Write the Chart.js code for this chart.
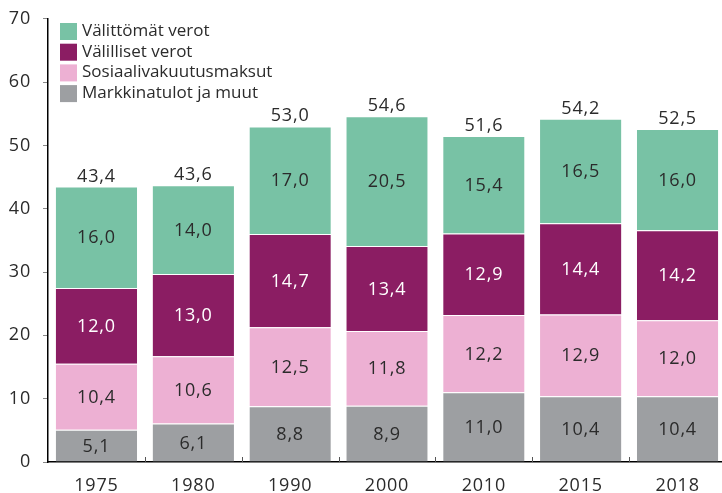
<!DOCTYPE html>
<html>
<head>
  <meta charset="UTF-8">
  <title>Verot</title>
  <script src="https://cdn.jsdelivr.net/npm/chart.js@4/dist/chart.umd.min.js"></script>
  <style>
    html, body { margin: 0; padding: 0; background: #fff; overflow: hidden; }
    #wrap { width: 726px; height: 497px; margin-top: -4px; }
  </style>
  <script>
    // vuodet ja sarjat (kuvasta luettuna)
    var years = ["1975", "1980", "1990", "2000", "2010", "2015", "2018"];
    var markkinatulot = [5.1, 6.1, 8.8, 8.9, 11.0, 10.4, 10.4];
    var sosiaalivakuutus = [10.4, 10.6, 12.5, 11.8, 12.2, 12.9, 12.0];
    var valilliset = [12.0, 13.0, 14.7, 13.4, 12.9, 14.4, 14.2];
    var valittomat = [16.0, 14.0, 17.0, 20.5, 15.4, 16.5, 16.0];
    var totals = [43.4, 43.6, 53.0, 54.6, 51.6, 54.2, 52.5];
    var yTicks = [0, 10, 20, 30, 40, 50, 60, 70];

    var FONT = "'Open Sans', sans-serif";
    var TEXT = "#2b2b2b";
    var SPACING = "0.8px";   // numerot ovat alkuperäisessä leveämpiä

    function fmt(v) { return v.toFixed(1).replace(".", ","); }

    var spacingPlugin = {
      id: "spacing",
      beforeUpdate: function(chart) { chart.ctx.letterSpacing = SPACING; },
      beforeDraw: function(chart) { chart.ctx.letterSpacing = SPACING; }
    };

    // arvot palkkien sisään ja summat päälle
    var labelPlugin = {
      id: "labels",
      afterDatasetsDraw: function(chart) {
        var ctx = chart.ctx;
        ctx.save();
        ctx.letterSpacing = SPACING;
        ctx.font = "18px " + FONT;
        ctx.textAlign = "center";
        ctx.textBaseline = "middle";
        chart.data.datasets.forEach(function(ds, di) {
          var meta = chart.getDatasetMeta(di);
          meta.data.forEach(function(bar, i) {
            var y = (bar.y + bar.base) / 2;
            ctx.fillStyle = ds.textColor;
            ctx.fillText(fmt(ds.data[i]), bar.x, y + 1);
          });
        });
        var last = chart.getDatasetMeta(chart.data.datasets.length - 1);
        ctx.fillStyle = TEXT;
        ctx.textBaseline = "alphabetic";
        last.data.forEach(function(bar, i) {
          ctx.fillText(fmt(totals[i]), bar.x, bar.y - 5);
        });
        ctx.restore();
      }
    };

    // selite vasempaan yläkulmaan, järjestys ylhäältä alas
    var legendPlugin = {
      id: "boxLegend",
      afterDraw: function(chart) {
        var ctx = chart.ctx;
        var ds = chart.data.datasets.slice().reverse();
        ctx.save();
        ctx.letterSpacing = "0px";
        ctx.font = "17px " + FONT;
        ctx.textBaseline = "middle";
        ctx.textAlign = "left";
        ds.forEach(function(d, i) {
          var y = 35 + i * 20.7;
          ctx.fillStyle = d.backgroundColor;
          ctx.fillRect(60, y - 8, 17, 17);
          ctx.fillStyle = TEXT;
          ctx.fillText(d.label, 82, y);
        });
        ctx.restore();
      }
    };

    // pienet pystyviivat x-akselilla luokkien välissä
    var xTickPlugin = {
      id: "xTicks",
      afterDraw: function(chart) {
        var x = chart.scales.x, ctx = chart.ctx;
        var w = x.width / years.length;
        ctx.save();
        ctx.strokeStyle = "#555";
        ctx.lineWidth = 1;
        for (var i = 1; i < years.length; i++) {
          var px = Math.round(x.left + i * w) + 0.5;
          ctx.beginPath();
          ctx.moveTo(px, x.top);
          ctx.lineTo(px, x.top - 5);
          ctx.stroke();
        }
        ctx.restore();
      }
    };

    function init() {
      new Chart(document.getElementById("c"), {
        type: "bar",
        data: {
          labels: years,
          datasets: [
            { label: "Markkinatulot ja muut", data: markkinatulot, backgroundColor: "#9d9fa2", textColor: TEXT },
            { label: "Sosiaalivakuutusmaksut", data: sosiaalivakuutus, backgroundColor: "#edb0d3", textColor: TEXT },
            { label: "Välilliset verot", data: valilliset, backgroundColor: "#8b1d63", textColor: "#ffffff" },
            { label: "Välittömät verot", data: valittomat, backgroundColor: "#78c2a5", textColor: TEXT }
          ]
        },
        options: {
          responsive: false,
          animation: false,
          devicePixelRatio: 1,
          layout: { padding: { top: 12, right: 0, bottom: 0, left: 0 } },
          datasets: {
            bar: {
              barPercentage: 0.84,
              categoryPercentage: 1,
              borderWidth: { top: 1 },
              borderColor: "rgba(255,255,255,0.45)",
              borderSkipped: "bottom"
            }
          },
          plugins: {
            legend: { display: false },
            tooltip: { enabled: false }
          },
          scales: {
            x: {
              stacked: true,
              grid: { display: false },
              border: { color: "#000", width: 1.5 },
              ticks: { color: TEXT, font: { family: FONT, size: 18 }, padding: 5 },
              afterFit: function(s) { s.height = 31; }
            },
            y: {
              stacked: true,
              min: 0,
              max: 70,
              afterBuildTicks: function(s) { s.ticks = yTicks.map(function(v) { return { value: v }; }); },
              grid: { drawOnChartArea: false, drawTicks: true, tickLength: 5, color: "#888" },
              border: { color: "#000", width: 1.5 },
              ticks: { color: TEXT, font: { family: FONT, size: 18 }, padding: 12 },
              afterFit: function(s) { s.width = 48; }
            }
          }
        },
        plugins: [spacingPlugin, labelPlugin, legendPlugin, xTickPlugin]
      });
    }
  </script>
</head>
<body onload="init()">
  <div id="wrap"><canvas id="c" width="726" height="497"></canvas></div>
</body>
</html>
